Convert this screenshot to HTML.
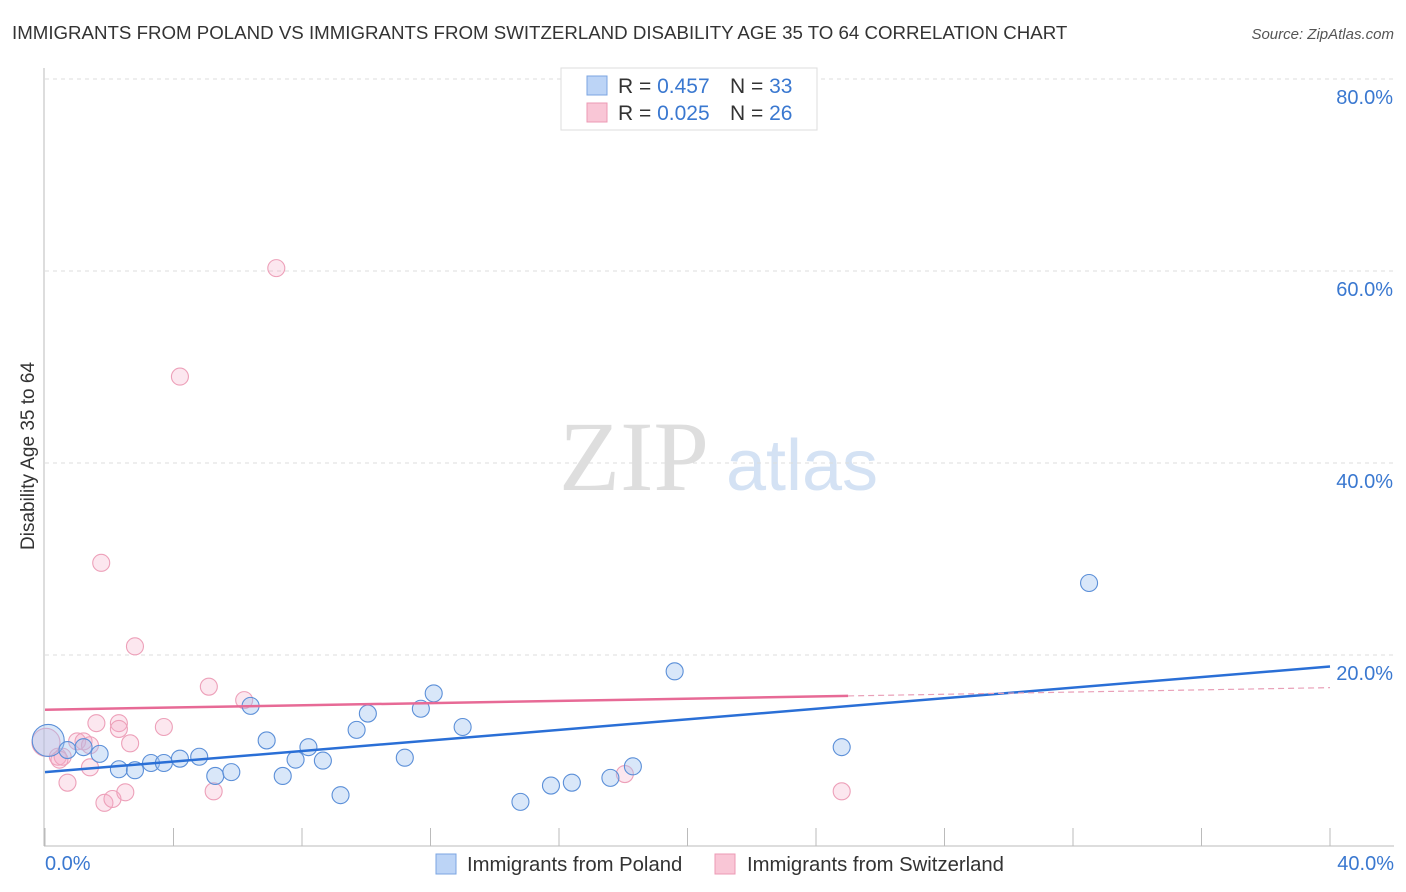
<!DOCTYPE html>
<html><head><meta charset="utf-8"><style>
body{margin:0;background:#fff;font-family:"Liberation Sans",sans-serif;}
svg{display:block}
</style></head><body>
<svg id="chart" width="1406" height="892">
<text x="12" y="39" font-size="18.7" fill="#333">IMMIGRANTS FROM POLAND VS IMMIGRANTS FROM SWITZERLAND DISABILITY AGE 35 TO 64 CORRELATION CHART</text>
<text x="1394" y="39" font-size="15" fill="#555" font-style="italic" text-anchor="end">Source: ZipAtlas.com</text>
<text x="0" y="0" transform="translate(34,456) rotate(-90)" font-size="19" fill="#333" text-anchor="middle">Disability Age 35 to 64</text>
<g><text x="634" y="490" font-size="100" font-family="Liberation Serif,serif" fill="#dedede" text-anchor="middle">ZIP</text><text x="802" y="490" font-size="72" fill="#d4e2f4" text-anchor="middle">atlas</text></g>
<g id="grid"></g><g id="axes"></g><g id="marks"></g>
<g>
<rect x="561" y="68" width="256" height="62" fill="#fff" stroke="#ddd"/>
<rect x="587" y="76" width="20" height="19" fill="#bcd4f6" stroke="#7ba5e2"/>
<rect x="587" y="103" width="20" height="19" fill="#f9c6d6" stroke="#ec9ab4"/>
<text x="618" y="93" font-size="21" fill="#333">R = <tspan fill="#3a78d0">0.457</tspan></text>
<text x="730" y="93" font-size="21" fill="#333">N = <tspan fill="#3a78d0">33</tspan></text>
<text x="618" y="120" font-size="21" fill="#333">R = <tspan fill="#3a78d0">0.025</tspan></text>
<text x="730" y="120" font-size="21" fill="#333">N = <tspan fill="#3a78d0">26</tspan></text>
</g>
<g>
<rect x="436" y="854" width="20" height="20" fill="#bcd4f6" stroke="#7ba5e2"/>
<text x="467" y="871" font-size="20.3" fill="#333">Immigrants from Poland</text>
<rect x="715" y="854" width="20" height="20" fill="#f9c6d6" stroke="#ec9ab4"/>
<text x="747" y="871" font-size="20.3" fill="#333">Immigrants from Switzerland</text>
</g>
</svg>
<script>
const xTicks=[0,4,8,12,16,20,24,28,32,36,40];
const yTicks=[20,40,60,80];
const polandX=[0.1,0.7,1.2,1.7,2.3,2.8,3.3,3.7,4.2,4.8,5.3,5.8,6.4,6.9,7.4,7.8,8.2,8.65,9.2,9.7,10.05,11.2,11.7,12.1,13.0,14.8,15.75,16.4,17.6,18.3,19.6,24.8,32.5];
const polandY=[11.1,10.1,10.4,9.7,8.1,8.0,8.75,8.75,9.2,9.4,7.4,7.8,14.7,11.1,7.4,9.1,10.4,9.0,5.4,12.2,13.9,9.3,14.4,16.0,12.5,4.7,6.4,6.7,7.2,8.4,18.3,10.4,27.5];
const swissX=[0.03,0.4,0.55,0.7,1.0,1.2,1.6,1.4,1.75,1.85,2.1,2.3,2.3,2.5,2.65,2.8,3.7,4.2,5.1,5.25,6.2,7.2,18.05,24.8,0.45,1.4];
const swissY=[10.9,9.4,9.4,6.7,11.0,11.0,12.9,8.3,29.6,4.6,5.0,12.9,12.3,5.7,10.8,20.9,12.5,49.0,16.7,5.8,15.3,60.3,7.6,5.8,9.1,10.6];
const polandTrend=[7.8,18.8];
const swissTrend=[14.3,16.6];
const swissSolidEnd=25;
const NS='http://www.w3.org/2000/svg';
const X=v=>45+v*32.125, Y=v=>847-v*9.6;
function mk(p,t,a){const e=document.createElementNS(NS,t);for(const k in a)e.setAttribute(k,a[k]);p.appendChild(e);return e;}
const grid=document.getElementById('grid'),axes=document.getElementById('axes'),marks=document.getElementById('marks');
yTicks.forEach(t=>{
 const l=mk(grid,'line',{x1:45,x2:1394,y1:Y(t),y2:Y(t),stroke:'#ddd','stroke-dasharray':'4,4'});
 
 
 const tx=mk(axes,'text',{x:1393,y:Y(t)+25,'font-size':20,fill:'#3a78d0','text-anchor':'end'});tx.textContent=t.toFixed(1)+'%';
 
 
});
mk(axes,'line',{x1:44,x2:44,y1:68,y2:846,stroke:'#bbb'});
mk(axes,'line',{x1:44,x2:1394,y1:846,y2:846,stroke:'#bbb'});
xTicks.forEach(t=>{
 const l=mk(axes,'line',{x1:X(t),x2:X(t),y1:828,y2:846,stroke:'#bbb'});
 
 
});
[[0,'start',45],[40,'end',1394]].forEach(([t,a,x])=>{
 const tx=mk(axes,'text',{x:x,y:870,'font-size':20,fill:'#3a78d0','text-anchor':a});tx.textContent=t.toFixed(1)+'%';
 
 
});
swissX.forEach((x,i)=>{
 const c=mk(marks,'circle',{cx:X(x),cy:Y(swissY[i]),r:i==0?14:8.5,fill:'rgba(246,170,196,0.28)',stroke:'#eda0b9','stroke-width':1.1});
 
 
});
polandX.forEach((x,i)=>{
 const c=mk(marks,'circle',{cx:X(x),cy:Y(polandY[i]),r:i==0?16:8.5,fill:'rgba(160,196,240,0.4)',stroke:'#5b8fd8','stroke-width':1.1});
 
 
});
const pt=mk(marks,'line',{x1:X(0),y1:Y(polandTrend[0]),x2:X(40),y2:Y(polandTrend[1]),stroke:'#2a6fd6','stroke-width':2.5});


const sy=v=>swissTrend[0]+(swissTrend[1]-swissTrend[0])*v/40;
const st=mk(marks,'line',{x1:X(0),y1:Y(sy(0)),x2:X(swissSolidEnd),y2:Y(sy(swissSolidEnd)),stroke:'#e76a96','stroke-width':2.5});


const sd=mk(marks,'line',{x1:X(swissSolidEnd),y1:Y(sy(swissSolidEnd)),x2:X(40),y2:Y(sy(40)),stroke:'#e9a0b8','stroke-width':1.2,'stroke-dasharray':'6,4'});


</script>
</body></html>
